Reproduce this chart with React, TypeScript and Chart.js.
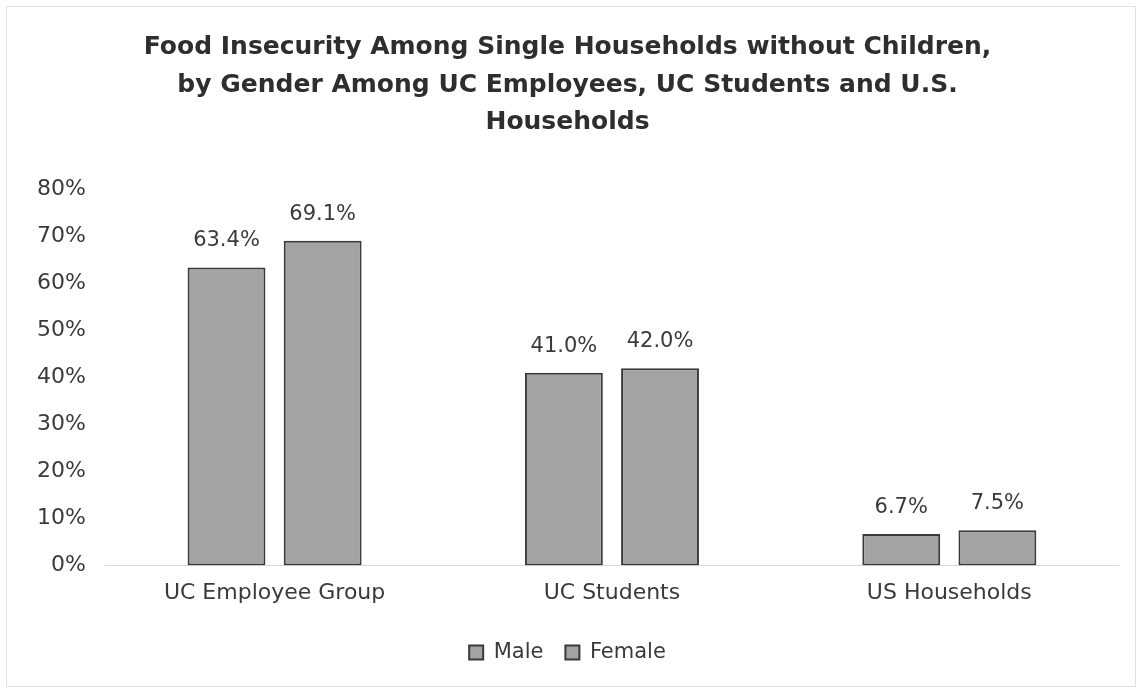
import React, { useEffect, useRef } from "react";
import { Chart, registerables } from "chart.js";

Chart.register(...registerables);

const categories = ["UC Employee Group", "UC Students", "US Households"];
const maleValues = [63.4, 41.0, 6.7];
const femaleValues = [69.1, 42.0, 7.5];
const seriesNames = ["Male", "Female"];
const yTicks = [0, 10, 20, 30, 40, 50, 60, 70, 80];
const titleLines = [
  "Food Insecurity Among Single Households without Children,",
  "by Gender Among UC Employees, UC Students and U.S.",
  "Households",
];

const FONT = "'DejaVu Sans', sans-serif";

const valueLabels = {
  id: "valueLabels",
  afterDatasetsDraw(chart: any) {
    const ctx = chart.ctx;
    ctx.save();
    ctx.font = `21px ${FONT}`;
    ctx.fillStyle = "#3a3a3a";
    ctx.textAlign = "center";
    ctx.textBaseline = "bottom";
    chart.data.datasets.forEach((ds: any, i: number) => {
      const meta = chart.getDatasetMeta(i);
      meta.data.forEach((bar: any, j: number) => {
        ctx.fillText(ds.data[j].toFixed(1) + "%", bar.x, bar.y - 16);
      });
    });
    ctx.restore();
  },
};

export default function App() {
  const ref = useRef<HTMLCanvasElement | null>(null);
  useEffect(() => {
    if (!ref.current) return;
    const chart = new Chart(ref.current, {
      type: "bar",
      data: {
        labels: categories,
        datasets: [
          {
            label: seriesNames[0],
            data: maleValues,
            backgroundColor: "#a3a3a3",
            borderColor: "#3a3a3a",
            borderWidth: 2,
            borderSkipped: false,
            barPercentage: 0.81,
            categoryPercentage: 0.57,
          },
          {
            label: seriesNames[1],
            data: femaleValues,
            backgroundColor: "#a3a3a3",
            borderColor: "#3a3a3a",
            borderWidth: 2,
            borderSkipped: false,
            barPercentage: 0.81,
            categoryPercentage: 0.57,
          },
        ],
      },
      options: {
        animation: false,
        responsive: false,
        maintainAspectRatio: false,
        layout: { padding: { left: 17, right: 24, top: 20, bottom: 18 } },
        plugins: {
          title: {
            display: true,
            text: titleLines,
            color: "#2e2e2e",
            font: { family: FONT, size: 25, weight: "bold", lineHeight: 1.5 },
            padding: { top: 9, bottom: 48 },
          },
          legend: {
            position: "bottom",
            labels: {
              color: "#3a3a3a",
              font: { family: FONT, size: 21 },
              boxWidth: 14,
              boxHeight: 14,
              padding: 22,
            },
          },
          tooltip: { enabled: false },
        },
        scales: {
          x: {
            grid: { display: false, drawTicks: false },
            border: { display: true, color: "#d9d9d9", width: 1 },
            ticks: { color: "#3a3a3a", font: { family: FONT, size: 22 }, padding: 14 },
          },
          y: {
            min: 0,
            max: 80,
            afterBuildTicks: (axis: any) => {
              axis.ticks = yTicks.map((v) => ({ value: v }));
            },
            grid: { display: false, drawTicks: false },
            border: { display: false },
            ticks: {
              color: "#3a3a3a",
              font: { family: FONT, size: 22 },
              padding: 20,
              callback: (v: any) => v + "%",
            },
          },
        },
      },
      plugins: [valueLabels],
    });
    return () => chart.destroy();
  }, []);
  return (
    <div style={{ position: "fixed", left: 0, top: 0, width: 1142, height: 691, background: "#fff" }}>
      <div style={{ position: "absolute", left: 6, top: 6, width: 1128, height: 679, border: "1px solid #e2e2e2" }} />
      <canvas ref={ref} width={1142} height={691} style={{ position: "absolute", left: 0, top: 0 }} />
    </div>
  );
}
